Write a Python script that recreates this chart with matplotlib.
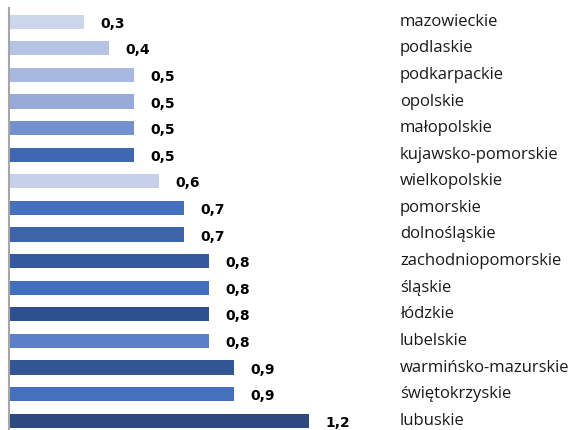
import matplotlib
matplotlib.use("Agg")
import matplotlib.pyplot as plt

regions = ["mazowieckie", "podlaskie", "podkarpackie", "opolskie", "małopolskie",
           "kujawsko-pomorskie", "wielkopolskie", "pomorskie", "dolnośląskie",
           "zachodniopomorskie", "śląskie", "łódzkie", "lubelskie",
           "warmińsko-mazurskie", "świętokrzyskie", "lubuskie"]
values = [0.3, 0.4, 0.5, 0.5, 0.5, 0.5, 0.6, 0.7, 0.7, 0.8, 0.8, 0.8, 0.8, 0.9, 0.9, 1.2]
colors = ["#cdd5ea", "#b6c3e4", "#a9b8e0", "#98abd8", "#7391cf", "#3f66b0",
          "#c6cfe8", "#4470be", "#3d63a8", "#35599e", "#4370be", "#2f5090",
          "#5a80c8", "#325694", "#4470be", "#2c4a80"]

fig = plt.figure(figsize=(5.79, 4.30), dpi=100)
ax = fig.add_axes([9 / 579, -4 / 430, 375 / 579, 425.6 / 430])

y = list(range(len(regions)))
ax.barh(y, values, height=0.53, color=colors)
ax.set_ylim(len(regions) - 0.5, -0.5)
ax.set_xlim(0, 1.5)

# value labels next to bars
for yi, v in zip(y, values):
    ax.annotate(f"{v:.1f}".replace(".", ","), (v, yi), xytext=(11.5, -1.5),
                textcoords="offset points", va="center", ha="left",
                fontsize=10, fontweight="bold", family="DejaVu Sans")

# region names in a column on the right
trans = ax.get_yaxis_transform()
for yi, name in zip(y, regions):
    ax.annotate(name, (1.0, yi), xycoords=trans, xytext=(11.5, 0),
                textcoords="offset points", va="center", ha="left",
                fontsize=12, family="Open Sans", color="#1a1a1a",
                annotation_clip=False)

ax.set_yticks([])
ax.set_xticks([])

for s in ["top", "right", "bottom"]:
    ax.spines[s].set_visible(False)
ax.spines["left"].set_color("#a6a6a6")
ax.spines["left"].set_linewidth(1.5)

fig.savefig("out.png", dpi=100)
